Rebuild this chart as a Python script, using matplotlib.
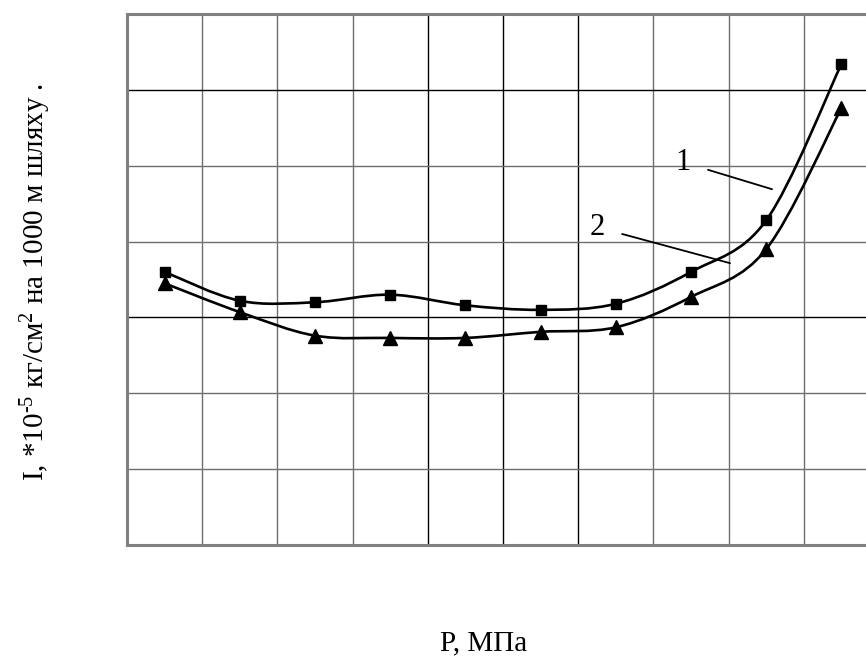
import numpy as np
import matplotlib
matplotlib.use("Agg")
import matplotlib.pyplot as plt
from matplotlib.path import Path
from matplotlib.patches import PathPatch

plt.rcParams['font.family'] = ['Liberation Serif', 'DejaVu Serif']
plt.rcParams['mathtext.fontset'] = 'custom'
plt.rcParams['mathtext.rm'] = 'Liberation Serif'
plt.rcParams['mathtext.it'] = 'Liberation Serif:italic'

# x in grid cells (10 columns), y in grid cells (7 rows)
x = [0.5, 1.5, 2.5, 3.5, 4.5, 5.5, 6.5, 7.5, 8.5, 9.5]
curve1 = [3.60, 3.22, 3.20, 3.30, 3.16, 3.10, 3.18, 3.60, 4.28, 6.34]
curve2 = [3.45, 3.07, 2.76, 2.73, 2.73, 2.81, 2.87, 3.27, 3.90, 5.76]


def smooth_path(xs, ys, t=1/6):
    # Catmull-Rom style smoothing -> cubic Bezier segments
    xs = np.asarray(xs, float)
    ys = np.asarray(ys, float)
    pts = np.column_stack([xs, ys])
    n = len(pts)
    verts = [pts[0]]
    codes = [Path.MOVETO]
    for i in range(n - 1):
        p0 = pts[i - 1] if i > 0 else pts[i]
        p1 = pts[i]
        p2 = pts[i + 1]
        p3 = pts[i + 2] if i + 2 < n else pts[i + 1]
        c1 = p1 + (p2 - p0) * t
        c2 = p2 - (p3 - p1) * t
        verts += [c1, c2, p2]
        codes += [Path.CURVE4] * 3
    return Path(verts, codes)


W, H = 866, 657
fig = plt.figure(figsize=(W / 100, H / 100), dpi=100)
ax = fig.add_axes([127 / W, (H - 545) / H, 752 / W, 531 / H])
ax.set_xlim(0, 10)
ax.set_ylim(0, 7)

dark_v = [4, 5, 6]
dark_h = [3, 6]
for i in range(1, 10):
    ax.axvline(i, color='black' if i in dark_v else '#6e6e6e', lw=1, zorder=1)
for j in range(1, 7):
    ax.axhline(j, color='black' if j in dark_h else '#6e6e6e', lw=1, zorder=1)

for ys in (curve1, curve2):
    ax.add_patch(PathPatch(smooth_path(x, ys), fill=False, lw=1.9,
                           edgecolor='black', zorder=3))

ax.plot(x, curve1, ls='none', marker='s', ms=7.5, color='black', zorder=4)
ax.plot(x, curve2, ls='none', marker='^', ms=10, color='black', zorder=4)

# callouts
ax.annotate('1', xy=((772 - 127) / 75.2, (545 - 189) / 75.9),
            xytext=((683 - 127) / 75.2, (545 - 162) / 75.9),
            fontsize=22, ha='center', va='center',
            arrowprops=dict(arrowstyle='-', lw=1.3, color='black',
                            shrinkA=11, shrinkB=0))
ax.annotate('2', xy=((730 - 127) / 75.2, (545 - 263) / 75.9),
            xytext=((597 - 127) / 75.2, (545 - 227) / 75.9),
            fontsize=22, ha='center', va='center',
            arrowprops=dict(arrowstyle='-', lw=1.3, color='black',
                            shrinkA=11, shrinkB=0))

ax.set_xticks([])
ax.set_yticks([])
for s in ('left', 'top', 'bottom'):
    ax.spines[s].set_color('#808080')
    ax.spines[s].set_linewidth(2.2)
ax.spines['right'].set_visible(False)

fig.text(36 / W, 1 - 282 / H,
         'I, *10$^{\\mathrm{\u20105}}$ кг/см$^{\\mathrm{2}}$ на 1000 м шляху .',
         rotation=90, ha='center', va='center', fontsize=21)
fig.text(484 / W, 1 - 650 / H, 'P, МПа', ha='center', va='baseline', fontsize=21)

fig.savefig('out.png', dpi=100)
